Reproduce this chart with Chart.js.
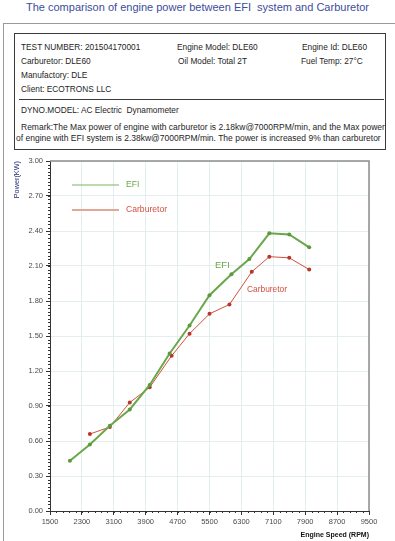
<!DOCTYPE html>
<html lang="en">
<head>
    <meta charset="UTF-8">
    <title>Engine power: EFI vs Carburetor</title>
    <script src="https://cdn.jsdelivr.net/npm/chart.js"></script>
    <style>
        body {
            margin: 0;
            width: 395px;
            height: 541px;
            position: relative;
            overflow: hidden;
            background: #fff;
            font-family: "Liberation Sans", Arial, sans-serif;
        }
        .title {
            position: absolute;
            left: 0;
            width: 395px;
            top: 0;
            line-height: 14px;
            text-align: center;
            font-size: 11px;
            color: #3c4c9e;
        }
        .frame {
            position: absolute;
            left: 3px;
            top: 23px;
            width: 400px;
            height: 530px;
            border-left: 1.5px solid #9a9a9a;
            border-top: 1.5px solid #9a9a9a;
        }
        .box {
            position: absolute;
            left: 14px;
            top: 33px;
            width: 370px;
            height: 115px;
            border: 1.5px solid #3a3a3a;
        }
        .sep {
            position: absolute;
            left: 19px;
            top: 99px;
            width: 365px;
            height: 0;
            border-top: 1px solid #3a3a3a;
        }
        .t {
            position: absolute;
            font-size: 8.3px;
            line-height: 10px;
            color: #1e1e1e;
            white-space: nowrap;
        }
        .t.r {
            font-size: 8.5px;
        }
        #wrap {
            position: absolute;
            left: 0;
            top: 150px;
            width: 395px;
            height: 391px;
        }
    </style>
</head>
<body>
    <div class="title">The comparison of engine power between EFI&nbsp; system and Carburetor</div>
    <div class="frame"></div>
    <div class="box"></div>
    <div class="sep"></div>

    <div class="t" style="left:21px;top:42px">TEST NUMBER: 201504170001</div>
    <div class="t" style="left:177px;top:42px">Engine Model: DLE60</div>
    <div class="t" style="left:302px;top:42px">Engine Id: DLE60</div>
    <div class="t" style="left:21px;top:56px">Carburetor: DLE60</div>
    <div class="t" style="left:178px;top:56px">Oil Model: Total 2T</div>
    <div class="t" style="left:301px;top:56px">Fuel Temp: 27°C</div>
    <div class="t" style="left:21px;top:70px">Manufactory: DLE</div>
    <div class="t" style="left:21px;top:84px">Client: ECOTRONS LLC</div>
    <div class="t" style="left:21px;top:105px">DYNO.MODEL: AC Electric&nbsp; Dynamometer</div>
    <div class="t r" style="left:21px;top:122px">Remark:The Max power of engine with carburetor is 2.18kw@7000RPM/min, and the Max power</div>
    <div class="t r" style="left:16px;top:133px">of engine with EFI system is 2.38kw@7000RPM/min. The power is increased 9% than carburetor</div>

    <div id="wrap">
        <canvas id="powerChart" width="395" height="391"></canvas>
    </div>

    <script>
        // engine speed (RPM) and power (kW)
        const efiRpm = [2000, 2500, 3000, 3500, 4000, 4500, 5000, 5500, 6050, 6500, 7000, 7500, 8000];
        const efiPower = [0.43, 0.57, 0.73, 0.87, 1.08, 1.35, 1.59, 1.85, 2.03, 2.16, 2.38, 2.37, 2.26];
        const carbRpm = [2500, 3000, 3500, 4000, 4550, 5000, 5500, 6000, 6560, 7000, 7500, 8000];
        const carbPower = [0.66, 0.72, 0.93, 1.06, 1.33, 1.52, 1.69, 1.77, 2.05, 2.18, 2.17, 2.07];

        const xMin = 1500, xMax = 9500, xStep = 800;
        const yMin = 0, yMax = 3, yStep = 0.3;

        const efiColor = '#69a84a';
        const carbColor = '#d2503f';

        const toPoints = (xs, ys) => xs.map((x, i) => ({ x: x, y: ys[i] }));

        // top/right frame, minor ticks, in-plot legend and curve labels
        const extras = {
            id: 'extras',
            afterDraw(chart) {
                const ctx = chart.ctx;
                const a = chart.chartArea;
                const xs = chart.scales.x, ys = chart.scales.y;
                ctx.save();

                ctx.strokeStyle = '#8c8c8c';
                ctx.lineWidth = 1.5;
                ctx.beginPath();
                ctx.moveTo(a.left, a.top);
                ctx.lineTo(a.right, a.top);
                ctx.lineTo(a.right, a.bottom);
                ctx.stroke();

                ctx.strokeStyle = '#333';
                ctx.lineWidth = 1;
                ctx.beginPath();
                for (let v = xMin; v <= xMax; v += xStep / 5) {
                    const px = Math.round(xs.getPixelForValue(v)) + 0.5;
                    ctx.moveTo(px, a.bottom);
                    ctx.lineTo(px, a.bottom + 2);
                }
                for (let i = 0; i <= 100; i++) {
                    const py = Math.round(ys.getPixelForValue(i * 0.03)) + 0.5;
                    ctx.moveTo(a.left - 2, py);
                    ctx.lineTo(a.left, py);
                }
                ctx.stroke();

                // legend
                ctx.font = '8.6px "Liberation Sans", Arial, sans-serif';
                ctx.textBaseline = 'middle';
                chart.data.datasets.forEach((ds, i) => {
                    const y = a.top + 24 + i * 25;
                    ctx.strokeStyle = i === 0 ? '#7bb35f' : '#e2a896';
                    ctx.lineWidth = i === 0 ? 1 : 2;
                    ctx.beginPath();
                    ctx.moveTo(a.left + 22, y);
                    ctx.lineTo(a.left + 69, y);
                    ctx.stroke();
                    ctx.fillStyle = ds.borderColor;
                    ctx.fillText(ds.label, a.left + 76, y);
                });

                // curve labels
                ctx.fillStyle = efiColor;
                ctx.font = '9.5px "Liberation Sans", Arial, sans-serif';
                ctx.fillText('EFI', a.left + 165, a.top + 104);
                ctx.fillStyle = carbColor;
                ctx.font = '8.4px "Liberation Sans", Arial, sans-serif';
                ctx.fillText('Carburetor', a.left + 197, a.top + 129);

                ctx.restore();
            }
        };

        const tickFont = { family: '"Liberation Sans", Arial, sans-serif', size: 7.5 };

        new Chart(document.getElementById('powerChart'), {
            type: 'line',
            data: {
                datasets: [{
                    label: 'EFI',
                    data: toPoints(efiRpm, efiPower),
                    borderColor: efiColor,
                    backgroundColor: '#5c9a3d',
                    borderWidth: 2,
                    pointRadius: 2,
                    pointBorderWidth: 0,
                    tension: 0
                }, {
                    label: 'Carburetor',
                    data: toPoints(carbRpm, carbPower),
                    borderColor: carbColor,
                    backgroundColor: '#b9342a',
                    borderWidth: 1,
                    pointRadius: 2,
                    pointBorderWidth: 0,
                    tension: 0
                }]
            },
            plugins: [extras],
            options: {
                responsive: false,
                animation: false,
                devicePixelRatio: 1,
                layout: { padding: { top: 11, right: 26, left: 0, bottom: 0 } },
                plugins: {
                    legend: { display: false },
                    tooltip: { enabled: false }
                },
                scales: {
                    x: {
                        type: 'linear',
                        min: xMin,
                        max: xMax,
                        afterFit: s => { s.height = 30; },
                        ticks: {
                            stepSize: xStep,
                            color: '#4a4a4a',
                            font: tickFont,
                            padding: 2,
                            maxRotation: 0,
                            callback: v => String(v)
                        },
                        grid: { color: '#e4eef1', tickColor: '#333', tickLength: 4 },
                        border: { color: '#333', width: 1 },
                        title: {
                            display: true,
                            text: 'Engine Speed (RPM)',
                            align: 'end',
                            color: '#111',
                            font: { family: '"Liberation Sans", Arial, sans-serif', size: 7, weight: 'bold' },
                            padding: { top: 0, bottom: 2 }
                        }
                    },
                    y: {
                        min: yMin,
                        max: yMax,
                        afterFit: s => { s.width = 50; },
                        ticks: {
                            stepSize: yStep,
                            color: '#4a4a4a',
                            font: tickFont,
                            padding: 3,
                            callback: v => Number(v).toFixed(2)
                        },
                        grid: { color: '#e4eef1', tickColor: '#333', tickLength: 4 },
                        border: { color: '#333', width: 1 },
                        title: {
                            display: true,
                            text: 'Power(KW)',
                            align: 'end',
                            color: '#1f2c7a',
                            font: { family: '"Liberation Sans", Arial, sans-serif', size: 7.3 },
                            padding: { top: 13, bottom: 0 }
                        }
                    }
                }
            }
        });
    </script>
</body>
</html>
